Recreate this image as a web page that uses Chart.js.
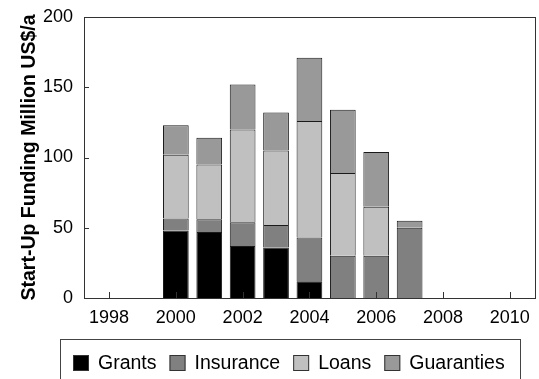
<!DOCTYPE html>
<html>
<head>
<meta charset="utf-8">
<script src="https://cdn.jsdelivr.net/npm/chart.js@4.4.0/dist/chart.umd.min.js"></script>
<style>
  html, body { margin: 0; padding: 0; background: #fff; }
  #c { display: block; }
</style>
</head>
<body>
<canvas id="c" width="539" height="379"></canvas>
<script>
// Start-up funding by instrument, million US$ per year
const years      = [2000, 2001, 2002, 2003, 2004, 2005, 2006, 2007];
const grants     = [48, 47, 37, 36, 12, 0, 0, 0];
const insurance  = [8.5, 9, 17, 16, 31, 30, 30, 50];
const loans      = [45.5, 39, 66, 53, 83, 59, 35, 0];
const guaranties = [21, 19, 32, 27, 45, 45, 39, 5];
const seriesNames = ['Grants', 'Insurance', 'Loans', 'Guaranties'];
const xTickValues = [1998, 2000, 2002, 2004, 2006, 2008, 2010];
const yTickValues = [0, 50, 100, 150, 200];

const FONT = '"Liberation Sans", Arial, Helvetica, sans-serif';
const colors = ['#000000', '#808080', '#c0c0c0', '#999999'];

const toPoints = arr => arr.map((v, i) => ({ x: years[i], y: v }));
const seriesValues = [grants, insurance, loans, guaranties];

// Plot frame with inward tick marks, drawn over the bars
const framePlugin = {
  id: 'frame',
  afterDatasetsDraw(chart) {
    const { ctx, chartArea: a, scales: { x, y } } = chart;
    ctx.save();
    ctx.strokeStyle = '#333';
    ctx.lineWidth = 1;
    ctx.beginPath();
    x.ticks.forEach(t => {
      const px = Math.round(x.getPixelForValue(t.value)) + 0.5;
      ctx.moveTo(px, a.bottom);
      ctx.lineTo(px, a.bottom - 6);
    });
    y.ticks.forEach(t => {
      const py = Math.round(y.getPixelForValue(t.value)) + 0.5;
      ctx.moveTo(a.left, py);
      ctx.lineTo(a.left + 5, py);
    });
    ctx.stroke();
    ctx.strokeRect(Math.round(a.left) + 0.5, Math.round(a.top) + 0.5,
                   Math.round(a.right - a.left), Math.round(a.bottom - a.top));
    ctx.restore();
  }
};

// Boxed legend row under the axis
const boxLegendPlugin = {
  id: 'boxLegend',
  afterDraw(chart) {
    const ctx = chart.ctx;
    ctx.save();
    ctx.font = '19.5px ' + FONT;
    const box = 16, gapText = 9, gapItem = 13;
    const items = chart.data.datasets.map(ds => ({
      label: ds.label, color: ds.backgroundColor, w: ctx.measureText(ds.label).width
    }));
    const total = items.reduce((s, it) => s + box + gapText + it.w, 0) + gapItem * (items.length - 1);
    const cx = 289, cy = 362.5;
    let xp = Math.round(cx - total / 2);
    const start = xp;
    ctx.textBaseline = 'middle';
    ctx.textAlign = 'left';
    items.forEach(it => {
      const top = Math.round(cy - box / 2);
      ctx.fillStyle = it.color;
      ctx.fillRect(xp, top, box, box);
      ctx.strokeStyle = '#333';
      ctx.lineWidth = 1;
      ctx.strokeRect(xp + 0.5, top + 0.5, box - 1, box - 1);
      ctx.fillStyle = '#000';
      ctx.fillText(it.label, xp + box + gapText, cy + 1);
      xp += box + gapText + it.w + gapItem;
    });
    const end = xp - gapItem;
    ctx.strokeStyle = '#444';
    ctx.strokeRect(start - 13 + 0.5, 339.5, Math.round((end + 15) - (start - 13)), 60);
    ctx.restore();
  }
};

new Chart(document.getElementById('c'), {
  type: 'bar',
  data: {
    datasets: seriesNames.map((name, i) => ({
      label: name,
      data: toPoints(seriesValues[i]),
      backgroundColor: colors[i],
      borderColor: '#1a1a1a',
      borderWidth: 1,
      barPercentage: 0.77,
      categoryPercentage: 1
    }))
  },
  options: {
    responsive: false,
    animation: false,
    layout: { padding: { top: 17, right: 3, left: 0, bottom: 0 } },
    plugins: { legend: { display: false }, tooltip: { enabled: false } },
    scales: {
      x: {
        type: 'linear',
        stacked: true,
        offset: false,
        min: 1997.25,
        max: 2010.75,
        afterBuildTicks: s => { s.ticks = xTickValues.map(v => ({ value: v })); },
        afterFit: s => { s.height = 81; },
        grid: { display: false, drawTicks: false, offset: false },
        border: { display: false },
        ticks: {
          font: { family: FONT, size: 18 },
          color: '#000',
          padding: 9,
          maxRotation: 0,
          callback: v => String(v)
        }
      },
      y: {
        stacked: true,
        min: 0,
        max: 200,
        afterBuildTicks: s => { s.ticks = yTickValues.map(v => ({ value: v })); },
        afterFit: s => { s.width = 84; s.paddingTop = 0; s.paddingBottom = 0; },
        grid: { display: false, drawTicks: false },
        border: { display: false },
        ticks: {
          font: { family: FONT, size: 18 },
          color: '#000',
          padding: 11,
          callback: v => String(v)
        },
        title: {
          display: true,
          text: 'Start-Up Funding Million US$/a',
          color: '#000',
          font: { family: FONT, size: 19.5, weight: 'bold' },
          padding: { top: 18, bottom: 0 }
        }
      }
    }
  },
  plugins: [framePlugin, boxLegendPlugin]
});
</script>
</body>
</html>
